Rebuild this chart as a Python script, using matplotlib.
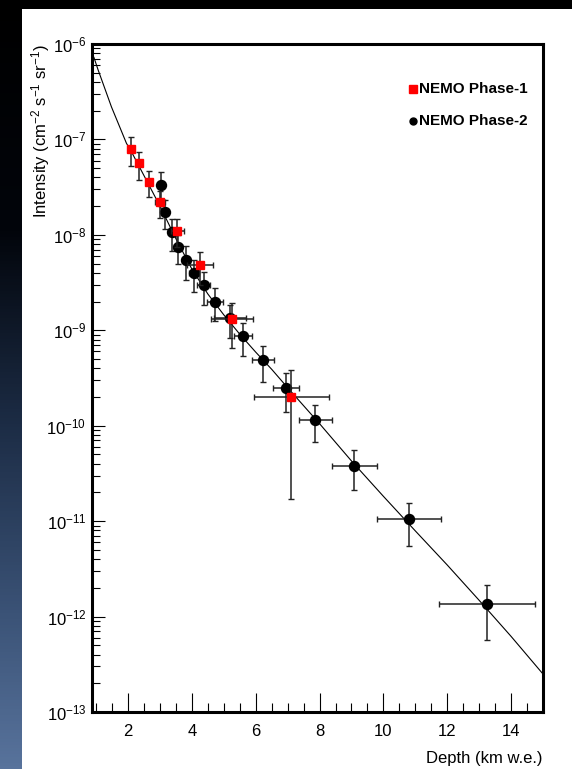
import numpy as np
import matplotlib
matplotlib.use("Agg")
import matplotlib.pyplot as plt
from matplotlib.colors import LinearSegmentedColormap
from matplotlib.ticker import LogLocator, MultipleLocator, FixedLocator

plt.rcParams['font.family'] = ['Liberation Sans', 'DejaVu Sans']
plt.rcParams['mathtext.fontset'] = 'custom'
plt.rcParams['mathtext.rm'] = 'Liberation Sans'
plt.rcParams['mathtext.it'] = 'Liberation Sans:italic'
plt.rcParams['mathtext.bf'] = 'Liberation Sans:bold'

# ---- data ----
phase1_depth = [2.09, 2.34, 2.66, 3.00, 3.54, 4.26, 5.26, 7.11]
phase1_int = [7.9e-8, 5.6e-8, 3.6e-8, 2.2e-8, 1.1e-8, 4.8e-9, 1.3e-9, 2.0e-10]
phase1_ierr = [2.6e-8, 1.8e-8, 1.1e-8, 0.7e-8, 0.35e-8, 1.8e-9, 0.65e-9, 1.83e-10]
phase1_derr = [0.0, 0.0, 0.0, 0.16, 0.20, 0.40, 0.66, 1.18]

phase2_depth = [3.02, 3.17, 3.37, 3.57, 3.80, 4.07, 4.37, 4.71, 5.18, 5.61,
                6.22, 6.95, 7.87, 9.09, 10.8, 13.24]
phase2_int = [3.3e-8, 1.74e-8, 1.07e-8, 7.4e-9, 5.5e-9, 4.0e-9, 2.95e-9, 2.0e-9,
              1.35e-9, 8.7e-10, 4.9e-10, 2.5e-10, 1.15e-10, 3.8e-11, 1.05e-11, 1.35e-12]
phase2_ierr = [1.3e-8, 0.6e-8, 0.4e-8, 2.5e-9, 2.1e-9, 1.5e-9, 1.1e-9, 0.75e-9,
               0.51e-9, 3.3e-10, 2.0e-10, 1.1e-10, 0.48e-10, 1.7e-11, 0.5e-11, 0.78e-12]
phase2_derr = [0.05, 0.08, 0.12, 0.12, 0.12, 0.15, 0.20, 0.25, 0.50, 0.28,
               0.34, 0.41, 0.53, 0.71, 1.0, 1.5]

curve_depth = [0.93, 1.06, 1.48, 1.95, 2.09, 2.5, 3.0, 3.5, 4.0, 4.5, 5.0, 5.5,
               6.0, 6.5, 7.0, 8.0, 9.0, 10.0, 11.0, 12.0, 13.0, 14.0, 15.0]
curve_int = [7.24e-7, 5.37e-7, 2.19e-7, 9.1e-8, 7.6e-8, 4.17e-8, 2.0e-8, 9.1e-9,
             4.37e-9, 2.4e-9, 1.45e-9, 9.1e-10, 5.9e-10, 3.9e-10, 2.5e-10, 1.05e-10,
             4.27e-11, 1.82e-11, 7.9e-12, 3.47e-12, 1.48e-12, 6.2e-13, 2.5e-13]

legend_labels = ['NEMO Phase-1', 'NEMO Phase-2']
xtick_values = [2, 4, 6, 8, 10, 12, 14]

# ---- figure & background ----
W, H = 572, 769
fig = plt.figure(figsize=(W / 100, H / 100), dpi=100, facecolor='black')

bg = fig.add_axes([0, 0, 1, 1], zorder=-10)
cmap = LinearSegmentedColormap.from_list(
    'strip', [(0.0, '#000000'), (0.30, '#02050b'), (0.55, '#1c2c45'),
              (0.80, '#3b5377'), (1.0, '#58739c')])
grad = np.linspace(0, 1, 256).reshape(-1, 1)
bg.imshow(grad, aspect='auto', cmap=cmap, extent=[0, 1, 0, 1], origin='upper')
bg.add_patch(plt.Rectangle((22 / W, 0), 1 - 22 / W, (H - 9) / H,
                           transform=bg.transAxes, facecolor='white', edgecolor='none'))
bg.set_xlim(0, 1)
bg.set_ylim(0, 1)
bg.axis('off')

ax = fig.add_axes([92 / W, (H - 712) / H, (543 - 92) / W, (712 - 44) / H])
ax.set_facecolor('white')

ax.plot(curve_depth, curve_int, color='black', lw=0.8, zorder=2)

ax.errorbar(phase2_depth, phase2_int, yerr=phase2_ierr, xerr=phase2_derr,
            fmt='o', color='black', ms=7.2, ecolor='#222222', elinewidth=1.1,
            capsize=2.5, capthick=1.0, zorder=3)
ax.errorbar(phase1_depth, phase1_int, yerr=phase1_ierr, xerr=phase1_derr,
            fmt='s', color='#ff0000', mec='#ff0000', ms=5.7, ecolor='#222222',
            elinewidth=1.1, capsize=2.5, capthick=1.0, zorder=4)

ax.set_yscale('log')
ax.set_ylim(1e-13, 1e-6)
ax.set_xlim(0.87, 15.0)

ax.xaxis.set_major_locator(FixedLocator(xtick_values))
ax.xaxis.set_minor_locator(MultipleLocator(0.5))
ax.yaxis.set_major_locator(LogLocator(base=10, numticks=20))
ax.yaxis.set_minor_locator(LogLocator(base=10, subs=np.arange(2, 10), numticks=20))

ax.tick_params(axis='x', which='major', direction='in', length=13.5, width=0.8,
               labelsize=12, pad=9, top=False)
ax.tick_params(axis='x', which='minor', direction='in', length=6.7, width=0.8, top=False)
ax.tick_params(axis='y', which='major', direction='in', length=9.5, width=0.8,
               labelsize=12, pad=4, right=False)
ax.tick_params(axis='y', which='minor', direction='in', length=5.5, width=0.8, right=False)

for s in ax.spines.values():
    s.set_linewidth(2.2)

ax.set_xlabel('Depth (km w.e.)', fontsize=12, loc='right')
ax.xaxis.set_label_coords(1.0, -0.058)
ax.set_ylabel(r'Intensity (cm$^{-2}$ s$^{-1}$ sr$^{-1}$)', fontsize=12, loc='top')
ax.yaxis.set_label_coords(-0.088, 1.0)

# legend (manual placement, ROOT style)
ax.plot([0.711], [0.932], transform=ax.transAxes, marker='s', color='#ff0000',
        ms=5.5, ls='none', clip_on=False)
ax.text(0.724, 0.932, legend_labels[0], transform=ax.transAxes, fontsize=11,
        fontweight='bold', va='center', ha='left')
ax.plot([0.711], [0.884], transform=ax.transAxes, marker='o', color='black',
        ms=5, ls='none', clip_on=False)
ax.text(0.724, 0.884, legend_labels[1], transform=ax.transAxes, fontsize=11,
        fontweight='bold', va='center', ha='left')

fig.savefig('out.png', dpi=100, facecolor=fig.get_facecolor())
